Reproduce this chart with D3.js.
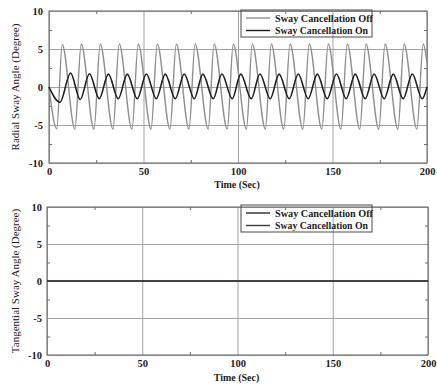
<!DOCTYPE html>
<html>
<head>
<meta charset="utf-8">
<script src="https://cdn.jsdelivr.net/npm/d3@7"></script>
<style>
  body { margin: 0; background: #ffffff; }
  svg { display: block; }
  text { font-family: "Liberation Serif", "Times New Roman", serif; fill: #1c1c1c; }
</style>
</head>
<body>
<svg id="chart" width="437" height="385"></svg>
<script>
// Axis ticks
const timeTicks = [0, 50, 100, 150, 200];
const timeMinorTicks = [25, 75, 125, 175];
const angleTicks = [-10, -5, 0, 5, 10];
const angleMinorTicks = [-7.5, -2.5, 2.5, 7.5];

const seriesNames = ["Sway Cancellation Off", "Sway Cancellation On"];

// Radial sway angle, turning points [time s, angle deg]
const radialOff = [
  [0, 0], [4.1, -5.5], [7.0, 5.6], [13.7, -5.55], [17.05, 5.65], [23.8, -5.55],
  [27.1, 5.65], [33.85, -5.55], [37.15, 5.65], [43.9, -5.55], [47.2, 5.65],
  [54.0, -5.55], [57.3, 5.65], [64.0, -5.55], [67.35, 5.65], [74.1, -5.55],
  [77.3, 5.65], [84.25, -5.55], [87.35, 5.65], [94.3, -5.55], [97.5, 5.65],
  [104.45, -5.55], [107.55, 5.65], [114.5, -5.55], [117.6, 5.65], [124.2, -5.55],
  [127.55, 5.65], [134.3, -5.55], [137.7, 5.65], [144.35, -5.55], [147.75, 5.65],
  [154.5, -5.55], [157.8, 5.65], [164.45, -5.55], [167.7, 5.65], [174.5, -5.55],
  [177.8, 5.65], [184.6, -5.55], [187.85, 5.65], [194.65, -5.55], [198.0, 5.65],
  [200, 3.2]
];
const radialOn = [
  [0, 0], [5.8, -2.0], [11.4, 1.85], [16.5, -1.65], [21.4, 1.75], [26.6, -1.55],
  [31.4, 1.7], [36.65, -1.55], [41.4, 1.7], [46.7, -1.55], [51.5, 1.72],
  [56.75, -1.55], [61.5, 1.7], [66.8, -1.55], [71.55, 1.72], [76.85, -1.55],
  [81.4, 1.7], [86.9, -1.55], [91.45, 1.72], [96.95, -1.55], [101.45, 1.7],
  [107.0, -1.55], [111.6, 1.72], [117.05, -1.55], [121.75, 1.7], [127.1, -1.55],
  [131.85, 1.72], [137.15, -1.55], [141.95, 1.7], [147.2, -1.55], [152.1, 1.72],
  [157.25, -1.55], [162.0, 1.7], [167.3, -1.55], [172.0, 1.72], [177.35, -1.55],
  [182.15, 1.7], [187.4, -1.55], [192.2, 1.72], [197.45, -1.55], [200, 0]
];

// Tangential sway angle stays at zero
const tangentialOff = [[0, 0], [200, 0]];
const tangentialOn = [[0, 0], [200, 0]];

const svg = d3.select("#chart");
const gridColor = "#a3a3a3";
const frameColor = "#6e6e6e";
const plainNumber = d => String(d);   // ASCII hyphen for negatives

function drawPanel(box, yTitle, series, legendColors) {
  const x = d3.scaleLinear().domain([0, 200]).range([box.left, box.right]);
  const y = d3.scaleLinear().domain([-10, 10]).range([box.bottom, box.top]);
  const w = box.right - box.left, h = box.bottom - box.top;
  const g = svg.append("g");

  // vertical grid + time labels
  const xAxis = g.append("g")
    .attr("transform", `translate(0,${box.bottom})`)
    .call(d3.axisBottom(x).tickValues(timeTicks).tickSize(-h).tickPadding(box.xPad).tickFormat(plainNumber));
  xAxis.select(".domain").remove();
  xAxis.selectAll("line").attr("stroke", gridColor).attr("stroke-width", 1);
  xAxis.selectAll("text").attr("font-size", 10.5).attr("font-weight", "bold")
    .attr("font-family", "Liberation Serif").attr("fill", "#1c1c1c");

  // horizontal grid + angle labels
  const yAxis = g.append("g")
    .attr("transform", `translate(${box.left},0)`)
    .call(d3.axisLeft(y).tickValues(angleTicks).tickSize(-w).tickPadding(box.yPad).tickFormat(plainNumber));
  yAxis.select(".domain").remove();
  yAxis.selectAll("line").attr("stroke", gridColor).attr("stroke-width", 1);
  yAxis.selectAll("text").attr("font-size", 10.5).attr("font-weight", "bold")
    .attr("font-family", "Liberation Serif").attr("fill", "#1c1c1c");

  // minor inward ticks on all four sides
  const minor = [
    [d3.axisBottom(x).tickValues(timeMinorTicks), `translate(0,${box.bottom})`],
    [d3.axisTop(x).tickValues(timeMinorTicks), `translate(0,${box.top})`],
    [d3.axisLeft(y).tickValues(angleMinorTicks), `translate(${box.left},0)`],
    [d3.axisRight(y).tickValues(angleMinorTicks), `translate(${box.right},0)`]
  ];
  minor.forEach(([ax, tr]) => {
    const m = g.append("g").attr("transform", tr)
      .call(ax.tickSize(-3).tickFormat(""));
    m.select(".domain").remove();
    m.selectAll("line").attr("stroke", frameColor).attr("stroke-width", 1);
  });

  // frame
  g.append("rect")
    .attr("x", box.left).attr("y", box.top).attr("width", w).attr("height", h)
    .attr("fill", "none").attr("stroke", frameColor).attr("stroke-width", 1.1);

  // data lines
  const line = d3.line().x(d => x(d[0])).y(d => y(d[1])).curve(d3.curveMonotoneX);
  series.forEach(s => {
    g.append("path").datum(s.data)
      .attr("d", line)
      .attr("fill", "none")
      .attr("stroke", s.color)
      .attr("stroke-width", s.width)
      .attr("stroke-linejoin", "round");
  });

  // y axis title
  g.append("text")
    .attr("transform", `translate(${box.titleX},${(box.top + box.bottom) / 2}) rotate(-90)`)
    .attr("text-anchor", "middle")
    .attr("dy", "0.35em")
    .attr("font-size", 11)
    .text(yTitle);

  // x axis title
  g.append("text")
    .attr("x", x(100) - 1)
    .attr("y", box.xTitleY)
    .attr("text-anchor", "middle")
    .attr("font-size", 10)
    .attr("font-weight", "bold")
    .text("Time (Sec)");

  // legend (no fill; the grid shows through)
  const lg = g.append("g");
  lg.append("rect")
    .attr("x", box.legendX).attr("y", box.legendY)
    .attr("width", 131).attr("height", 27)
    .attr("fill", "none").attr("stroke", "#4a4a4a").attr("stroke-width", 1);
  seriesNames.forEach((name, i) => {
    const ry = box.legendY + 8 + i * 12.5;
    lg.append("line")
      .attr("x1", box.legendX + 5).attr("x2", box.legendX + 29)
      .attr("y1", ry).attr("y2", ry)
      .attr("stroke", legendColors[i]).attr("stroke-width", 1.4);
    lg.append("text")
      .attr("x", box.legendX + 34).attr("y", ry)
      .attr("dy", "0.35em")
      .attr("font-size", 10)
      .attr("font-weight", "bold")
      .attr("textLength", i === 0 ? 98 : 93)
      .attr("lengthAdjust", "spacingAndGlyphs")
      .text(name);
  });
}

drawPanel(
  { left: 49, right: 427, top: 11, bottom: 163, xPad: 5, yPad: 6, titleX: 15, xTitleY: 188, legendX: 241, legendY: 10 },
  "Radial Sway Angle (Degree)",
  [
    { data: radialOff, color: "#8e8e8e", width: 1.4 },
    { data: radialOn, color: "#1f1f1f", width: 1.6 }
  ],
  ["#8e8e8e", "#1f1f1f"]
);

drawPanel(
  { left: 47, right: 428, top: 207, bottom: 355, xPad: 5, yPad: 5, titleX: 15, xTitleY: 381, legendX: 241, legendY: 205 },
  "Tangential Sway Angle (Degree)",
  [
    { data: tangentialOff, color: "#2a2a2a", width: 1.4 },
    { data: tangentialOn, color: "#3a3a44", width: 1.4 }
  ],
  ["#2a2a2a", "#3a3a44"]
);
</script>
</body>
</html>
